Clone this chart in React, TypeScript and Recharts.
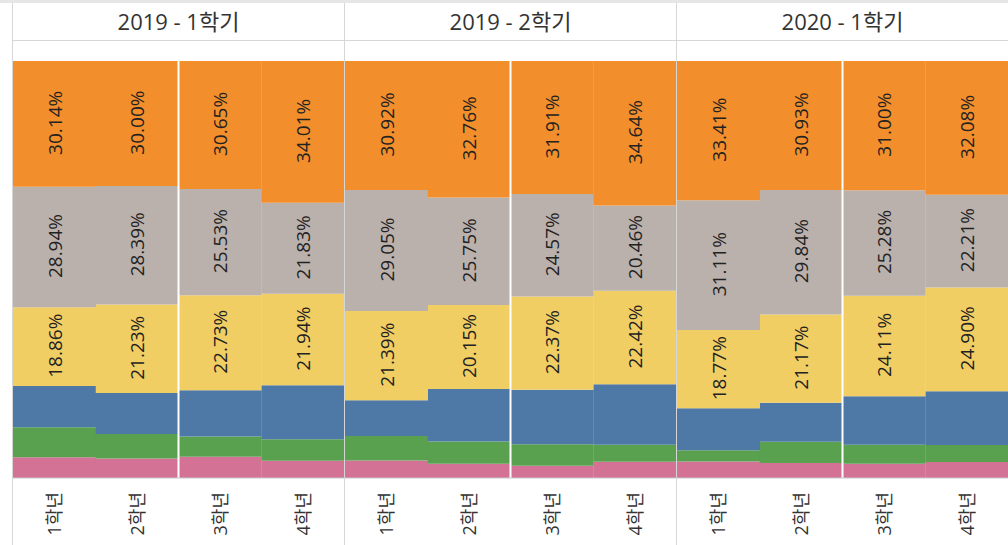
import { Bar, BarChart, LabelList, ReferenceLine, XAxis, YAxis } from "recharts";

const terms = ["2019 - 1학기", "2019 - 2학기", "2020 - 1학기"];
const grades = ["1학년", "2학년", "3학년", "4학년"];

// shares in %, term by term, grades 1..4 inside each term
const orangeShare = [30.14, 30.0, 30.65, 34.01, 30.92, 32.76, 31.91, 34.64, 33.41, 30.93, 31.0, 32.08];
const grayShare = [28.94, 28.39, 25.53, 21.83, 29.05, 25.75, 24.57, 20.46, 31.11, 29.84, 25.28, 22.21];
const yellowShare = [18.86, 21.23, 22.73, 21.94, 21.39, 20.15, 22.37, 22.42, 18.77, 21.17, 24.11, 24.9];
const blueShare = [9.9, 9.83, 11.1, 12.94, 8.58, 12.61, 13.03, 14.5, 10.07, 9.39, 11.62, 12.92];
const greenShare = [7.2, 5.9, 4.9, 5.13, 5.89, 5.34, 5.17, 4.11, 2.7, 5.06, 4.6, 4.07];
const pinkShare = [4.96, 4.65, 5.07, 4.15, 4.17, 3.39, 2.95, 3.87, 3.94, 3.61, 3.39, 3.82];

const FONT = '"Open Sans", "Noto Sans CJK KR", sans-serif';
const LINE = "#d6d6d6";

function ShareLabel(props: any) {
  const { x, y, width, height, value } = props;
  const cx = Number(x) + Number(width) / 2;
  const cy = Number(y) + Number(height) / 2 - 1;
  return (
    <text
      transform={`translate(${cx},${cy}) rotate(-90)`}
      textAnchor="middle"
      dominantBaseline="central"
      fontSize={19}
      fontFamily={FONT}
      fill="#222"
    >
      {`${Number(value).toFixed(2)}%`}
    </text>
  );
}

function GradeTick(props: any) {
  const { x, y, payload } = props;
  return (
    <text
      transform={`translate(${x},${Number(y) + 6}) rotate(-90)`}
      textAnchor="end"
      dominantBaseline="central"
      fontSize={18}
      fontFamily={FONT}
      fill="#333"
    >
      {payload.value}
    </text>
  );
}

function TermPanel({ term, idx }: { term: string; idx: number }) {
  const rows = grades.map((grade, i) => {
    const k = idx * 4 + i;
    return {
      grade,
      pink: pinkShare[k],
      green: greenShare[k],
      blue: blueShare[k],
      yellow: yellowShare[k],
      gray: grayShare[k],
      orange: orangeShare[k],
    };
  });

  return (
    <div style={{ width: 331, borderLeft: `1px solid ${LINE}` }}>
      <div
        style={{
          height: 37,
          lineHeight: "37px",
          textAlign: "center",
          fontSize: 22,
          color: "#333",
          borderBottom: `1px solid ${LINE}`,
        }}
      >
        {term}
      </div>
      <BarChart width={331} height={504} data={rows} margin={{ top: 20, right: 0, left: 0, bottom: 0 }} barCategoryGap={0}>
        <XAxis dataKey="grade" height={67} interval={0} axisLine={{ stroke: "#c8c8c8" }} tickLine={false} tick={<GradeTick />} />
        <YAxis hide domain={[0, 100]} />
        <Bar dataKey="pink" stackId="s" fill="#D37295" isAnimationActive={false} />
        <Bar dataKey="green" stackId="s" fill="#59A14F" isAnimationActive={false} />
        <Bar dataKey="blue" stackId="s" fill="#4E79A7" isAnimationActive={false} />
        <Bar dataKey="yellow" stackId="s" fill="#F1CE63" isAnimationActive={false}>
          <LabelList dataKey="yellow" content={<ShareLabel />} />
        </Bar>
        <Bar dataKey="gray" stackId="s" fill="#BAB0AC" isAnimationActive={false}>
          <LabelList dataKey="gray" content={<ShareLabel />} />
        </Bar>
        <Bar dataKey="orange" stackId="s" fill="#F28E2B" isAnimationActive={false}>
          <LabelList dataKey="orange" content={<ShareLabel />} />
        </Bar>
        <ReferenceLine x="3학년" position="start" stroke="#ffffff" strokeWidth={2} />
      </BarChart>
    </div>
  );
}

export default function App() {
  return (
    <div
      style={{
        position: "absolute",
        left: 0,
        top: 0,
        width: 1008,
        height: 545,
        overflow: "hidden",
        background: "#fff",
        fontFamily: FONT,
      }}
    >
      <div style={{ height: 3, background: "#e6e6e6" }} />
      <div style={{ display: "flex", paddingLeft: 12 }}>
        {terms.map((term, idx) => (
          <TermPanel key={term} term={term} idx={idx} />
        ))}
      </div>
    </div>
  );
}
